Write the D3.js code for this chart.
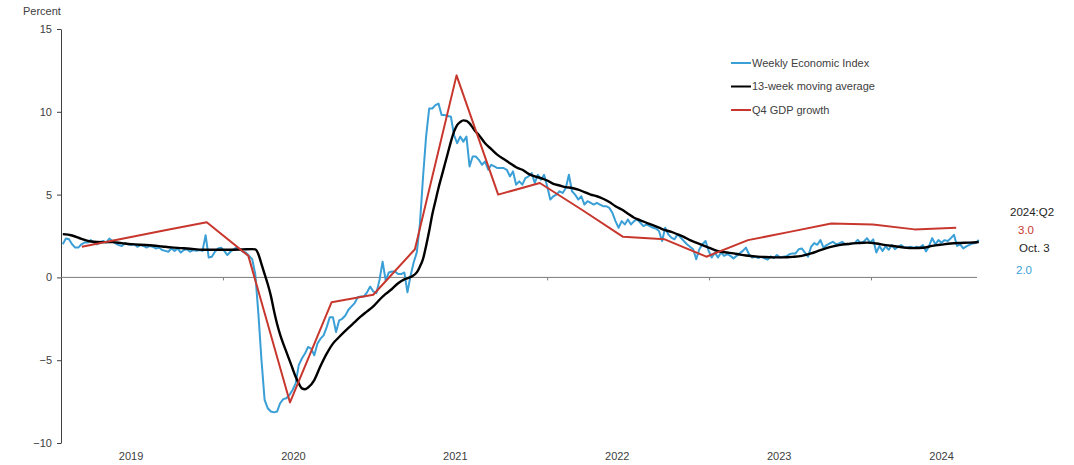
<!DOCTYPE html>
<html>
<head>
<meta charset="utf-8">
<script src="https://cdn.jsdelivr.net/npm/d3@7"></script>
<style>
  body { margin: 0; background: #fff; }
  svg text { font-family: "Liberation Sans", Arial, sans-serif; fill: #404040; }
</style>
</head>
<body>
<svg id="chart"></svg>
<script>
// weekly economic index, one value per week starting first week of 2019
var weiStart = new Date(2019, 0, 5);
var weiValues = [
  2.0, 2.35, 2.3, 2.0, 1.8, 1.8, 2.0, 2.1, 2.1, 2.25,
  2.1, 2.0, 2.1, 2.2, 2.1, 2.35, 2.2, 2.05, 1.95, 1.9,
  2.05, 2.0, 1.95, 2.0, 1.85, 1.95, 1.9, 1.8, 1.9, 1.85,
  1.75, 1.8, 1.65, 1.6, 1.55, 1.75, 1.6, 1.75, 1.5, 1.65,
  1.7, 1.55, 1.65, 1.6, 1.65, 1.6, 2.55, 1.2, 1.25, 1.55,
  1.75, 1.8, 1.6, 1.35, 1.55, 1.7, 1.8, 1.7, 1.55, 1.5,
  1.3, 1.1, 0.2, -2.2, -5.0, -7.4, -7.9, -8.1, -8.15, -8.1,
  -7.6, -7.35, -7.3, -7.1, -6.8, -6.4, -5.3, -4.9, -4.6, -4.2,
  -4.3, -4.7, -4.0, -3.7, -3.5, -3.0, -2.4, -2.4, -3.3, -2.6,
  -2.5, -2.3, -1.95, -1.75, -1.55, -1.2, -1.15, -1.15, -0.9, -0.55,
  -0.85, -0.95, -0.15, 0.95, -0.2, 0.3, 0.36, 0.36, 0.2, 0.2,
  0.3, -0.9, 0.1, 0.9, 1.5, 3.2, 6.0, 8.5, 10.2, 10.2,
  10.4, 10.5, 9.8, 9.8, 9.75, 9.7, 8.6, 8.1, 8.5, 8.2,
  8.5, 6.7, 7.3, 7.3, 7.1, 6.8, 7.0, 6.5, 6.8, 6.7,
  6.6, 6.6, 6.6, 6.5, 6.1, 6.4, 5.6, 5.8, 5.6, 6.0,
  6.1, 6.3, 5.7, 6.2, 5.9, 6.2, 5.5, 4.7, 4.9, 5.0,
  5.2, 5.1, 5.4, 6.2, 5.2, 5.0, 4.7, 4.9, 4.4, 4.6,
  4.5, 4.4, 4.5, 4.4, 4.3, 4.3, 4.2, 3.9, 3.4, 3.0,
  3.4, 3.2, 3.5, 3.2, 3.4, 3.5, 3.3, 3.1, 3.2, 3.1,
  3.0, 2.95, 2.8, 2.2, 3.0, 2.6, 2.4, 2.3, 2.6, 2.4,
  2.2, 2.0, 1.85, 1.7, 1.1, 1.7, 2.0, 2.2, 1.6, 1.2,
  1.5, 1.2, 1.5, 1.3, 1.4, 1.3, 1.15, 1.3, 1.45, 1.6,
  1.8, 1.4, 1.2, 1.25, 1.17, 1.25, 1.15, 1.07, 1.27, 1.17,
  1.35, 1.2, 1.25, 1.27, 1.4, 1.45, 1.45, 1.7, 1.75, 1.5,
  1.25, 1.85, 2.07, 1.97, 2.25, 1.8, 1.95, 2.05, 2.15, 2.0,
  2.05, 2.15, 2.0, 2.0, 2.05, 2.07, 2.27, 2.07, 2.17, 2.37,
  2.1, 2.3, 1.5, 1.9, 1.6, 1.87, 1.67, 1.95, 1.7, 1.85,
  1.95, 1.8, 1.8, 1.85, 1.8, 1.85, 1.8, 1.95, 1.57, 1.9,
  2.37, 2.0, 2.25, 2.1, 2.25, 2.2, 2.37, 2.57, 1.9, 2.0,
  1.75, 1.87, 1.97, 2.05, 2.07, 2.27
];

// 13-week moving average, read at these week numbers
var maWeeks = [0, 3, 6, 9, 13, 16, 19, 22, 25, 29, 32, 35, 38, 41, 45, 48, 51, 54, 58, 61,
  62, 63, 64, 65, 66, 67, 68, 69, 70, 71, 72, 73, 74, 75, 76, 77, 78, 79, 81, 83,
  85, 87, 89, 92, 94, 96, 98, 100, 102, 104, 106, 108, 110, 112, 114, 115, 116, 117, 118, 119,
  120, 121, 122, 123, 124, 125, 126, 127, 128, 129, 130, 131, 132, 133, 134, 136, 138, 140, 142, 144,
  146, 148, 150, 152, 154, 156, 158, 160, 162, 164, 166, 168, 170, 172, 174, 176, 178, 180, 182, 184,
  186, 188, 190, 192, 194, 196, 198, 200, 202, 204, 206, 208, 210, 212, 214, 216, 218, 220, 223, 226,
  229, 232, 235, 238, 241, 244, 247, 250, 253, 256, 259, 262, 265, 268, 271, 274, 277, 280, 283, 286,
  289, 292, 295];
var maValues = [2.61, 2.53, 2.33, 2.17, 2.13, 2.13, 2.07, 2.01, 1.97, 1.93, 1.87, 1.81, 1.77, 1.73, 1.67, 1.67, 1.67, 1.67, 1.69, 1.71,
  1.69, 1.4, 0.8, 0.2, -0.4, -1.1, -2.0, -2.8, -3.45, -4.0, -4.5, -5.0, -5.5, -6.0, -6.4, -6.7, -6.75, -6.65, -6.2, -5.35,
  -4.6, -4.0, -3.6, -3.05, -2.7, -2.35, -2.05, -1.75, -1.35, -1.0, -0.7, -0.35, -0.12, 0.02, 0.3, 0.65, 1.1, 1.9, 2.8, 3.8,
  4.6, 5.4, 6.1, 6.8, 7.5, 8.2, 8.8, 9.2, 9.38, 9.48, 9.45, 9.3, 9.05, 8.8, 8.6, 8.1, 7.75, 7.4, 7.15, 6.9,
  6.65, 6.5, 6.25, 6.1, 6.0, 5.85, 5.65, 5.55, 5.45, 5.4, 5.3, 5.15, 5.0, 4.9, 4.75, 4.55, 4.3, 4.1, 3.85, 3.6,
  3.45, 3.3, 3.15, 3.0, 2.85, 2.75, 2.6, 2.45, 2.25, 2.1, 1.95, 1.8, 1.65, 1.55, 1.5, 1.45, 1.38, 1.32, 1.27, 1.23,
  1.21, 1.21, 1.24, 1.3, 1.45, 1.65, 1.83, 1.95, 2.02, 2.07, 2.1, 2.05, 1.95, 1.88, 1.8, 1.77, 1.79, 1.9, 1.98, 2.05,
  2.08, 2.1, 2.14];

// four-quarter GDP growth
var quarters = ['2019:Q1', '2019:Q2', '2019:Q3', '2019:Q4', '2020:Q1', '2020:Q2', '2020:Q3', '2020:Q4',
  '2021:Q1', '2021:Q2', '2021:Q3', '2021:Q4', '2022:Q1', '2022:Q2', '2022:Q3', '2022:Q4',
  '2023:Q1', '2023:Q2', '2023:Q3', '2023:Q4', '2024:Q1', '2024:Q2'];
var gdpValues = [1.85, 2.35, 2.85, 3.33, 1.3, -7.55, -1.5, -1.05, 1.7, 12.2, 5.0, 5.7,
  4.1, 2.45, 2.3, 1.25, 2.25, 2.75, 3.25, 3.2, 2.9, 3.0];

var years = [2019, 2020, 2021, 2022, 2023, 2024];
var yTicks = [-10, -5, 0, 5, 10, 15];

var seriesNames = ['Weekly Economic Index', '13-week moving average', 'Q4 GDP growth'];
var seriesColors = ['#3a9fd6', '#000000', '#c8372d'];

var width = 1074, height = 465;
var margin = {top: 29, right: 97, bottom: 22, left: 61};
var w = width - margin.left - margin.right;
var h = height - margin.top - margin.bottom;
var yearWidth = 162;

var svg = d3.select('#chart')
    .attr('width', width)
    .attr('height', height);

var g = svg.append('g')
    .attr('transform', 'translate(' + margin.left + ',' + margin.top + ')');

var x = d3.scaleTime()
    .domain([new Date(2019, 0, 1), new Date(2024, 0, 1)])
    .range([0, yearWidth * 5]);

// gdp sits on its own category axis across the plot
var xq = d3.scalePoint()
    .domain(quarters)
    .range([0, w])
    .padding(0.5);

var y = d3.scaleLinear()
    .domain([-10, 15])
    .range([h, 0]);

var weiData = weiValues.map((v, i) => ({date: d3.timeWeek.offset(weiStart, i), value: v}));
var maData = maWeeks.map((wk, i) => ({date: d3.timeWeek.offset(weiStart, wk), value: maValues[i]}));
var gdpData = quarters.map((q, i) => ({q: q, value: gdpValues[i]}));

// y axis
var yAxis = g.append('g')
    .call(d3.axisLeft(y).tickValues(yTicks).tickSize(4).tickPadding(5).tickSizeOuter(0));
yAxis.select('.domain').attr('stroke', '#404040');
yAxis.selectAll('.tick line').attr('stroke', '#404040');
yAxis.selectAll('.tick text')
    .style('font-family', '"Liberation Sans", Arial, sans-serif')
    .style('font-size', '11px')
    .attr('fill', '#404040');

// zero line with year ticks
g.append('line')
    .attr('x1', 0)
    .attr('x2', w)
    .attr('y1', y(0))
    .attr('y2', y(0))
    .attr('stroke', '#7a7a7a')
    .attr('stroke-width', 1);

var xAxis = g.append('g')
    .attr('transform', 'translate(0,' + y(0) + ')')
    .call(d3.axisBottom(x)
      .tickValues(years.slice(1).map(yr => new Date(yr, 0, 1)))
      .tickFormat('')
      .tickSize(3)
      .tickSizeOuter(0));
xAxis.select('.domain').remove();
xAxis.selectAll('.tick line').attr('stroke', '#7a7a7a');

g.selectAll('.year-label')
    .data(years)
  .enter()
  .append('text')
    .classed('year-label', true)
    .attr('x', d => x(new Date(d, 5, 8)))
    .attr('y', h + 17)
    .attr('text-anchor', 'middle')
    .style('font-size', '11px')
    .text(d => d);

svg.append('text')
    .attr('x', 23)
    .attr('y', 15)
    .style('font-size', '11px')
    .text('Percent');

// lines
var weiLine = d3.line()
    .x(d => x(d.date))
    .y(d => y(d.value));

var gdpLine = d3.line()
    .x(d => xq(d.q))
    .y(d => y(d.value));

g.append('path')
    .datum(weiData)
    .attr('fill', 'none')
    .attr('stroke', seriesColors[0])
    .attr('stroke-width', 2)
    .attr('stroke-linejoin', 'round')
    .attr('d', weiLine);

g.append('path')
    .datum(maData)
    .attr('fill', 'none')
    .attr('stroke', seriesColors[1])
    .attr('stroke-width', 2.4)
    .attr('stroke-linejoin', 'round')
    .attr('d', weiLine.curve(d3.curveMonotoneX));

g.append('path')
    .datum(gdpData)
    .attr('fill', 'none')
    .attr('stroke', seriesColors[2])
    .attr('stroke-width', 2)
    .attr('stroke-linejoin', 'round')
    .attr('d', gdpLine);

// legend
var legend = svg.append('g')
    .attr('transform', 'translate(731,63)');

var item = legend.selectAll('.item')
    .data(seriesNames)
  .enter()
  .append('g')
    .classed('item', true)
    .attr('transform', (d, i) => 'translate(0,' + (i * 23.5) + ')');

item.append('line')
    .attr('x1', 0)
    .attr('x2', 20)
    .attr('stroke', (d, i) => seriesColors[i])
    .attr('stroke-width', 2);

item.append('text')
    .attr('x', 21)
    .attr('dy', '0.35em')
    .style('font-size', '11px')
    .text(d => d);

// latest readings at right
var notes = [
  {text: '2024:Q2', x: 1010, y: 212, color: '#222'},
  {text: gdpValues[gdpValues.length - 1].toFixed(1), x: 1018, y: 230, color: seriesColors[2]},
  {text: 'Oct. 3', x: 1019, y: 248, color: '#222'},
  {text: '2.0', x: 1016, y: 270, color: seriesColors[0]}
];

svg.selectAll('.note')
    .data(notes)
  .enter()
  .append('text')
    .classed('note', true)
    .attr('x', d => d.x)
    .attr('y', d => d.y)
    .attr('dy', '0.35em')
    .style('font-size', '11.5px')
    .style('fill', d => d.color)
    .text(d => d.text);
</script>
</body>
</html>
